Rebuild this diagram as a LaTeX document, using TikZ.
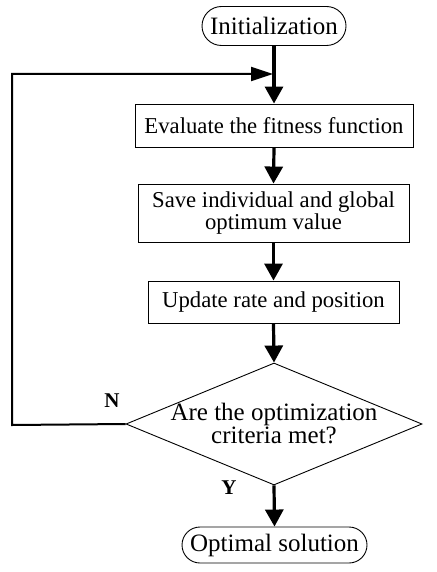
\documentclass[tikz,border=0pt]{standalone}
\usepackage{fontspec}
\setmainfont{Liberation Serif}
\usetikzlibrary{shapes.geometric,shapes.misc,arrows.meta}
\begin{document}
\begin{tikzpicture}[x=1pt,y=-1pt,
  every node/.style={inner sep=0pt},
  procbox/.style={draw, line width=0.9pt, align=center, font=\fontsize{22.7}{20}\selectfont},
  termbox/.style={draw, line width=0.9pt, rounded rectangle, font=\fontsize{25}{25}\selectfont},
  decbox/.style={draw, line width=0.9pt, diamond, aspect=2.43},
  dectxt/.style={align=center, font=\fontsize{25}{23}\selectfont},
  flow/.style={line width=3.2pt, -{Triangle[length=17pt,width=18pt]}},
  loopline/.style={line width=2pt, -{Triangle[length=22pt,width=14pt]}},
  lab/.style={font=\fontsize{21}{21}\selectfont\bfseries}]
\useasboundingbox (0,0) rectangle (436,572);
\node[termbox, minimum width=144pt, minimum height=39pt] (init) at (274,26) {Initialization};
\node[procbox, minimum width=278pt, minimum height=43pt] (eval) at (274,125.5) {Evaluate the fitness function};
\node[procbox, minimum width=271pt, minimum height=58pt] (save) at (273.5,213) {Save individual and global\\optimum value};
\node[procbox, minimum width=251pt, minimum height=42pt] (upd) at (273.5,302) {Update rate and position};
\node[decbox, minimum width=296pt, minimum height=122pt] (dec) at (274,424) {};
\node[dectxt] (dectext) at (274,423) {Are the optimization\\criteria met?};
\node[termbox, minimum width=185pt, minimum height=36pt] (opt) at (274.5,545) {Optimal solution};
\coordinate (left) at (12,425);
\coordinate (top) at (12,74);
\coordinate (join) at (273,74);
\node[lab] (nlab) at (112,401) {N};
\node[lab] (ylab) at (229,488) {Y};
\draw[flow] (init.south) -- (eval.north);
\draw[flow] (eval.south) -- (save.north);
\draw[flow] (save.south) -- (upd.north);
\draw[flow] (upd.south) -- (dec.north);
\draw[flow] (dec.south) -- (opt.north);
\draw[loopline] (dec.west) -- (left) -- (top) -- (join);
\end{tikzpicture}
\end{document}
